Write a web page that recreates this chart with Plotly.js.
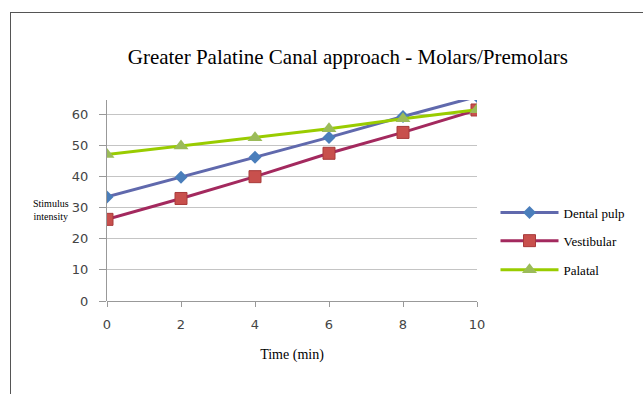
<!DOCTYPE html>
<html><head><meta charset="utf-8">
<script src="https://cdn.plot.ly/plotly-3.0.1.min.js"></script>
<style>
html,body{margin:0;padding:0;background:#fff;}
#wrap{position:relative;width:643px;height:394px;overflow:hidden;}
#frame{position:absolute;left:10px;top:12px;width:700px;height:500px;border-left:1px solid #555;border-top:1px solid #555;pointer-events:none;}
#chart{position:absolute;left:0;top:0;width:643px;height:394px;}
</style></head>
<body><div id="wrap"><div id="chart"></div><div id="frame"></div></div>
<script>
const time = [0, 2, 4, 6, 8, 10];
const dentalPulp = [33.4, 39.7, 46.1, 52.5, 59.2, 65.6];
const vestibular = [26.2, 32.9, 39.9, 47.4, 54.1, 61.3];
const palatal = [47, 49.7, 52.4, 55.3, 58.5, 61.4];
const seriesNames = ['Dental pulp', 'Vestibular', 'Palatal'];

const serif = 'Liberation Serif, Times New Roman, serif';
const sans = 'DejaVu Sans, Liberation Sans, sans-serif';
const traces = [
  {x: time, y: dentalPulp, name: seriesNames[0], mode: 'lines+markers', legend: 'legend',
   line: {color: '#6069AD', width: 3}, marker: {symbol: 'diamond', size: 10, color: '#4A7EBB', line: {color: '#4A7EBB', width: 0}}},
  {x: time, y: vestibular, name: seriesNames[1], mode: 'lines+markers', legend: 'legend2',
   line: {color: '#A3295E', width: 3}, marker: {symbol: 'square', size: 12, color: '#C8504D', line: {color: '#A83A3A', width: 1}}},
  {x: time, y: palatal, name: seriesNames[2], mode: 'lines+markers', legend: 'legend3',
   line: {color: '#99CC00', width: 3}, marker: {symbol: 'triangle-up', size: 13, color: '#9BBB59', line: {color: '#9BBB59', width: 0}}}
];
const legBase = {x: 1.05, xanchor: 'left', yanchor: 'middle', font: {family: serif, size: 13, color: '#000'}, bgcolor: 'rgba(0,0,0,0)', itemwidth: 58};
const layout = {
  width: 643, height: 394, showlegend: true,
  margin: {l: 107, r: 164, t: 100, b: 93},
  paper_bgcolor: '#fff', plot_bgcolor: '#fff',
  title: {text: 'Greater Palatine Canal approach - Molars/Premolars', font: {family: serif, size: 21, color: '#000'}, x: 0.541, xanchor: 'center', y: 0.855, yanchor: 'middle'},
  xaxis: {range: [0, 10], tickvals: time, ticktext: time.map(String), showgrid: false, zeroline: false,
    showline: false, ticks: 'outside', ticklen: 5, tickcolor: '#999', ticklabelstandoff: 6,
    tickfont: {family: sans, size: 13, color: '#444'},
    title: {text: 'Time (min)', font: {family: serif, size: 14, color: '#000'}, standoff: 18}},
  yaxis: {range: [0, 64.5], tickvals: [0, 10, 20, 30, 40, 50, 60], showgrid: true, gridcolor: '#C4C4C4', gridwidth: 1,
    zeroline: true, zerolinecolor: '#999', zerolinewidth: 1,
    showline: true, linecolor: '#999', linewidth: 1, ticks: 'outside', ticklen: 7, tickcolor: '#999', ticklabelstandoff: 8,
    tickfont: {family: sans, size: 13, color: '#444'}},
  legend: Object.assign({}, legBase, {y: 0.44}),
  legend2: Object.assign({}, legBase, {y: 0.30}),
  legend3: Object.assign({}, legBase, {y: 0.155}),
  annotations: [{text: 'Stimulus<br>intensity', xref: 'paper', yref: 'paper', x: -0.152, y: 0.455, xanchor: 'center', yanchor: 'middle',
    showarrow: false, font: {family: serif, size: 10, color: '#000'}, align: 'center'}]
};
Plotly.newPlot('chart', traces, layout, {staticPlot: true, displayModeBar: false});
</script></body></html>
